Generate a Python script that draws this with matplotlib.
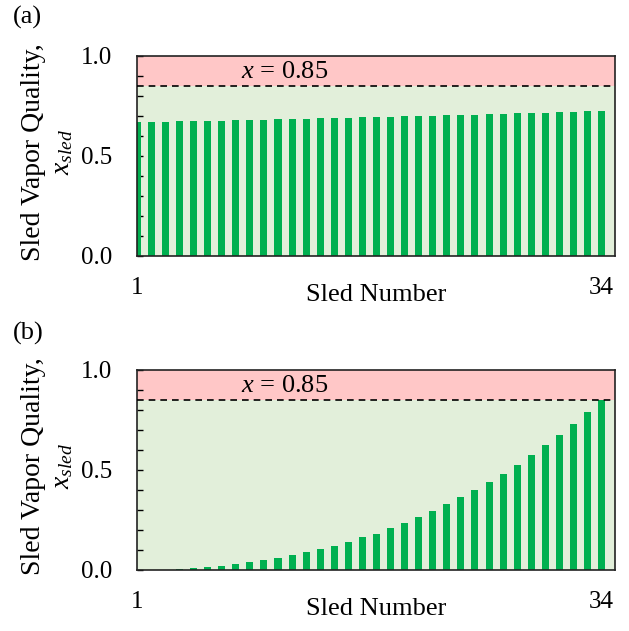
import numpy as np
import matplotlib
matplotlib.use("Agg")
import matplotlib.pyplot as plt
from matplotlib.ticker import MultipleLocator, FixedLocator

plt.rcParams['font.family'] = ['Liberation Serif', 'DejaVu Serif']
plt.rcParams['mathtext.fontset'] = 'custom'
plt.rcParams['mathtext.rm'] = 'Liberation Serif'
plt.rcParams['mathtext.it'] = 'Liberation Serif:italic'

# sled numbers 1..34
sleds = np.arange(1, 35)

# (a) vapor quality per sled
quality_a = [0.668, 0.671, 0.672, 0.674, 0.675, 0.676, 0.677, 0.678, 0.681, 0.682,
             0.683, 0.685, 0.686, 0.688, 0.690, 0.692, 0.693, 0.695, 0.697, 0.698,
             0.700, 0.702, 0.703, 0.705, 0.707, 0.709, 0.711, 0.713, 0.715, 0.717,
             0.719, 0.721, 0.725, 0.727]

# (b) vapor quality per sled
quality_b = [0.0, 0.0, 0.002, 0.006, 0.010, 0.015, 0.021, 0.030, 0.038, 0.050,
             0.062, 0.073, 0.088, 0.104, 0.122, 0.138, 0.163, 0.182, 0.208, 0.235,
             0.265, 0.293, 0.328, 0.363, 0.400, 0.438, 0.482, 0.525, 0.573, 0.623,
             0.675, 0.732, 0.788, 0.850]

x_limit = 0.85
panel_labels = ['(a)', '(b)']
xtick_labels = ['1', '34']

bar_green = '#00B050'
bg_green = '#E2EFDA'
bg_red = '#FFC7C7'

fig = plt.figure(figsize=(6.29, 6.31), dpi=100)
positions = [[0.2183, 0.5943, 0.7594, 0.317], [0.2183, 0.0967, 0.7594, 0.317]]
panel_y = [0.973, 0.471]

for pos, vals, lab, py in zip(positions, [quality_a, quality_b], panel_labels, panel_y):
    ax = fig.add_axes(pos)
    ax.axhspan(0, x_limit, color=bg_green, lw=0, zorder=0)
    ax.axhspan(x_limit, 1.0, color=bg_red, lw=0, zorder=0)
    ax.bar(sleds, vals, width=0.5, color=bar_green, zorder=2)
    ax.axhline(x_limit, color='black', ls=(0, (4, 3)), lw=1.2, zorder=3)
    ax.text(11.5, 0.92, '$x$ = 0.85', fontsize=19, ha='center', va='center', zorder=4)

    ax.set_xlim(1.0, 34.95)
    ax.set_ylim(0, 1.0)
    ax.xaxis.set_major_locator(FixedLocator([1, 34]))
    ax.set_xticklabels(xtick_labels)
    ax.yaxis.set_major_locator(FixedLocator([0, 0.5, 1.0]))
    ax.yaxis.set_minor_locator(MultipleLocator(0.1))
    ax.set_yticklabels(['0.0', '0.5', '1.0'])
    ax.tick_params(axis='x', length=0, pad=15, labelsize=18)
    ax.tick_params(axis='y', which='both', direction='in', length=4.5, width=1.0,
                   pad=18, labelsize=18)
    for s in ax.spines.values():
        s.set_linewidth(1.2)
        s.set_color('#222222')

    ax.set_xlabel('Sled Number', fontsize=19)
    ax.xaxis.set_label_coords(0.5, -0.14)
    ax.set_ylabel('Sled Vapor Quality,\n$x_{sled}$', fontsize=20, linespacing=1.2)
    ax.yaxis.set_label_coords(-0.13, 0.52)

    fig.text(0.021, py, lab, fontsize=19, ha='left', va='center')

fig.savefig('out.png', dpi=100)
